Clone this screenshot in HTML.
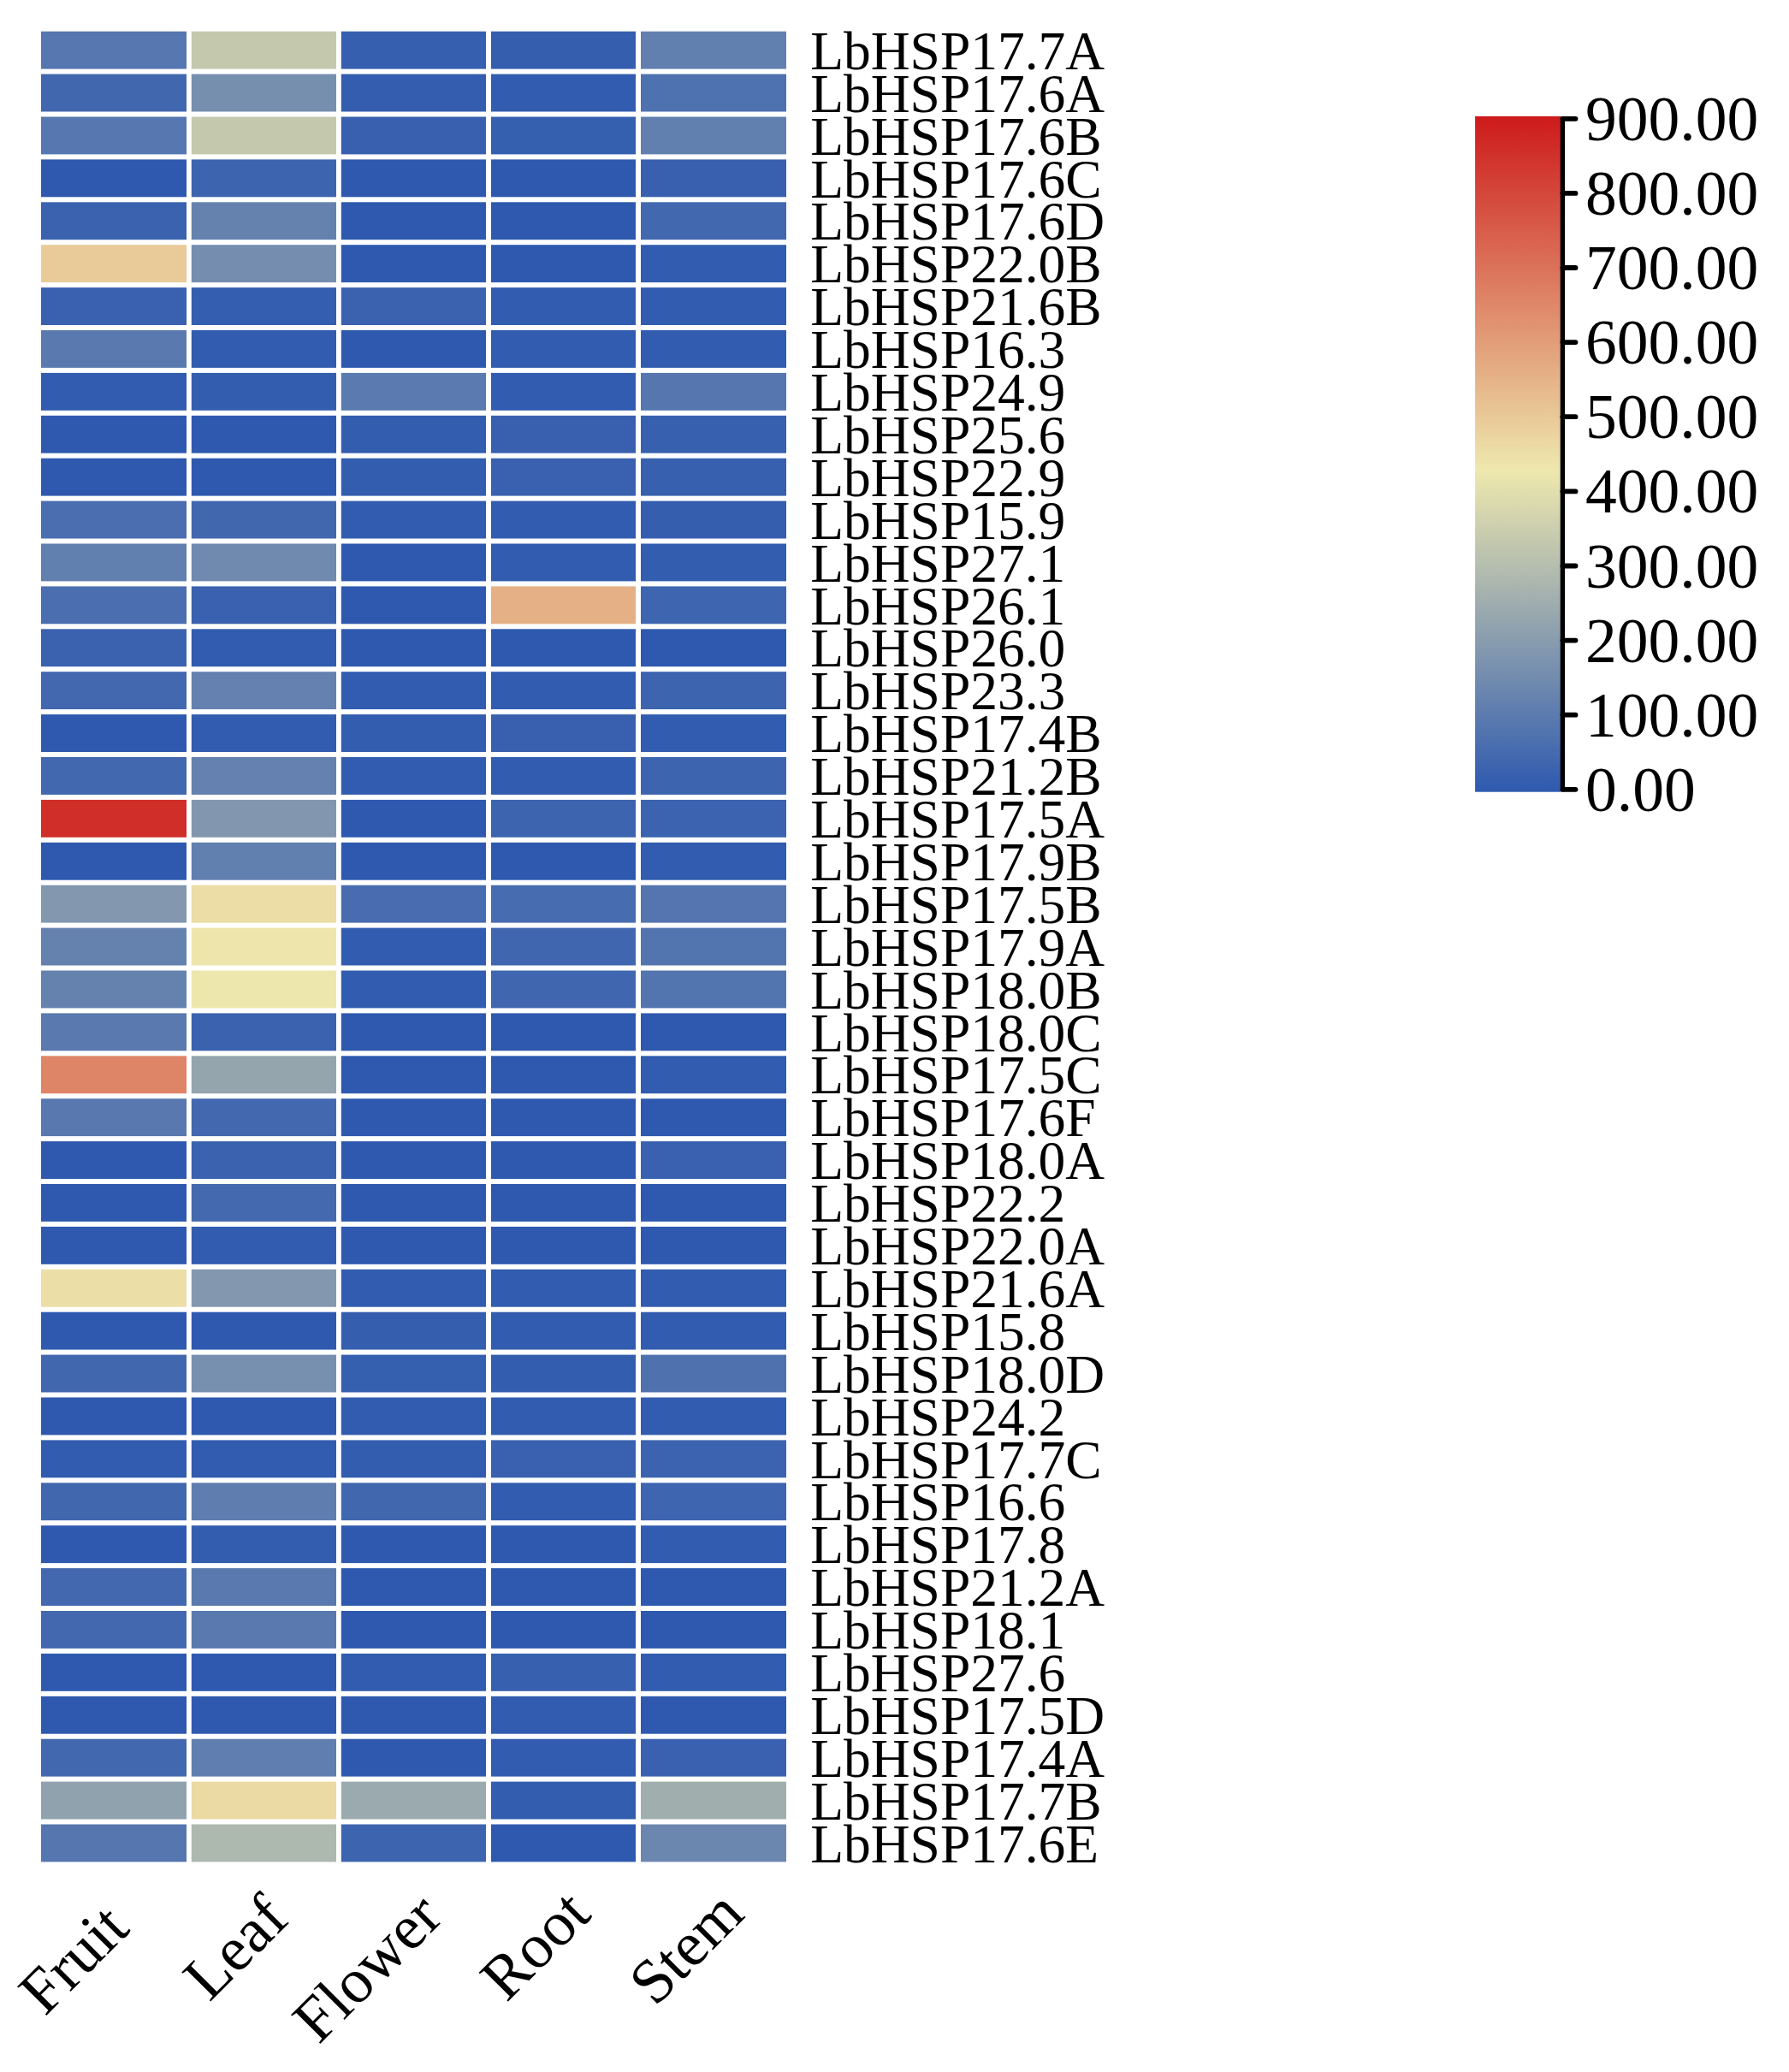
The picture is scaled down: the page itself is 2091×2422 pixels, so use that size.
<!DOCTYPE html>
<html lang="en"><head><meta charset="utf-8"><title>LbHSP expression heatmap</title>
<style>html,body{margin:0;padding:0;background:#fff}body{width:2091px;height:2422px;overflow:hidden}svg{display:block}text{font-family:"Liberation Serif",serif;fill:#000}.rl{font-size:63.5px}.cl{font-size:73.5px}.tl{font-size:73.5px}</style></head><body>
<svg width="2091" height="2422" viewBox="0 0 2091 2422">
<rect width="2091" height="2422" fill="#fff"/>
<g>
<rect x="48" y="36.70" width="170" height="43.9" fill="#5677AF"/>
<rect x="223.8" y="36.70" width="169.2" height="43.9" fill="#C4C9AE"/>
<rect x="398.8" y="36.70" width="169.2" height="43.9" fill="#365FAF"/>
<rect x="574" y="36.70" width="169" height="43.9" fill="#355EAF"/>
<rect x="749" y="36.70" width="170" height="43.9" fill="#6280AF"/>
<rect x="48" y="86.60" width="170" height="43.9" fill="#4167AF"/>
<rect x="223.8" y="86.60" width="169.2" height="43.9" fill="#778FAF"/>
<rect x="398.8" y="86.60" width="169.2" height="43.9" fill="#345DAF"/>
<rect x="574" y="86.60" width="169" height="43.9" fill="#325CAF"/>
<rect x="749" y="86.60" width="170" height="43.9" fill="#4E71AF"/>
<rect x="48" y="136.50" width="170" height="43.9" fill="#5677AF"/>
<rect x="223.8" y="136.50" width="169.2" height="43.9" fill="#C4C9AE"/>
<rect x="398.8" y="136.50" width="169.2" height="43.9" fill="#3860AF"/>
<rect x="574" y="136.50" width="169" height="43.9" fill="#355FAF"/>
<rect x="749" y="136.50" width="170" height="43.9" fill="#6280AF"/>
<rect x="48" y="186.40" width="170" height="43.9" fill="#2E59AF"/>
<rect x="223.8" y="186.40" width="169.2" height="43.9" fill="#3D64AF"/>
<rect x="398.8" y="186.40" width="169.2" height="43.9" fill="#2E59AF"/>
<rect x="574" y="186.40" width="169" height="43.9" fill="#2E59AF"/>
<rect x="749" y="186.40" width="170" height="43.9" fill="#3860AF"/>
<rect x="48" y="236.30" width="170" height="43.9" fill="#3A62AF"/>
<rect x="223.8" y="236.30" width="169.2" height="43.9" fill="#6582AF"/>
<rect x="398.8" y="236.30" width="169.2" height="43.9" fill="#2E59AF"/>
<rect x="574" y="236.30" width="169" height="43.9" fill="#2E59AF"/>
<rect x="749" y="236.30" width="170" height="43.9" fill="#4268AF"/>
<rect x="48" y="286.20" width="170" height="43.9" fill="#E9CB99"/>
<rect x="223.8" y="286.20" width="169.2" height="43.9" fill="#758EAF"/>
<rect x="398.8" y="286.20" width="169.2" height="43.9" fill="#2E59AF"/>
<rect x="574" y="286.20" width="169" height="43.9" fill="#2E59AF"/>
<rect x="749" y="286.20" width="170" height="43.9" fill="#325CAF"/>
<rect x="48" y="336.10" width="170" height="43.9" fill="#3961AF"/>
<rect x="223.8" y="336.10" width="169.2" height="43.9" fill="#345EAF"/>
<rect x="398.8" y="336.10" width="169.2" height="43.9" fill="#3A62AF"/>
<rect x="574" y="336.10" width="169" height="43.9" fill="#325CAF"/>
<rect x="749" y="336.10" width="170" height="43.9" fill="#325CAF"/>
<rect x="48" y="386.00" width="170" height="43.9" fill="#5A7AAF"/>
<rect x="223.8" y="386.00" width="169.2" height="43.9" fill="#315CAF"/>
<rect x="398.8" y="386.00" width="169.2" height="43.9" fill="#2E59AF"/>
<rect x="574" y="386.00" width="169" height="43.9" fill="#315CAF"/>
<rect x="749" y="386.00" width="170" height="43.9" fill="#315CAF"/>
<rect x="48" y="435.90" width="170" height="43.9" fill="#315CAF"/>
<rect x="223.8" y="435.90" width="169.2" height="43.9" fill="#335DAF"/>
<rect x="398.8" y="435.90" width="169.2" height="43.9" fill="#5B7AAF"/>
<rect x="574" y="435.90" width="169" height="43.9" fill="#325CAF"/>
<rect x="749" y="435.90" width="170" height="43.9" fill="#5576AF"/>
<rect x="48" y="485.80" width="170" height="43.9" fill="#2E59AF"/>
<rect x="223.8" y="485.80" width="169.2" height="43.9" fill="#2E59AF"/>
<rect x="398.8" y="485.80" width="169.2" height="43.9" fill="#335DAF"/>
<rect x="574" y="485.80" width="169" height="43.9" fill="#3860AF"/>
<rect x="749" y="485.80" width="170" height="43.9" fill="#3760AF"/>
<rect x="48" y="535.70" width="170" height="43.9" fill="#2E59AF"/>
<rect x="223.8" y="535.70" width="169.2" height="43.9" fill="#2E59AF"/>
<rect x="398.8" y="535.70" width="169.2" height="43.9" fill="#335DAF"/>
<rect x="574" y="535.70" width="169" height="43.9" fill="#3961AF"/>
<rect x="749" y="535.70" width="170" height="43.9" fill="#3760AF"/>
<rect x="48" y="585.60" width="170" height="43.9" fill="#4A6EAF"/>
<rect x="223.8" y="585.60" width="169.2" height="43.9" fill="#4167AF"/>
<rect x="398.8" y="585.60" width="169.2" height="43.9" fill="#315CAF"/>
<rect x="574" y="585.60" width="169" height="43.9" fill="#315CAF"/>
<rect x="749" y="585.60" width="170" height="43.9" fill="#355EAF"/>
<rect x="48" y="635.50" width="170" height="43.9" fill="#617FAF"/>
<rect x="223.8" y="635.50" width="169.2" height="43.9" fill="#6F89AF"/>
<rect x="398.8" y="635.50" width="169.2" height="43.9" fill="#2E59AF"/>
<rect x="574" y="635.50" width="169" height="43.9" fill="#315CAF"/>
<rect x="749" y="635.50" width="170" height="43.9" fill="#335DAF"/>
<rect x="48" y="685.40" width="170" height="43.9" fill="#4A6EAF"/>
<rect x="223.8" y="685.40" width="169.2" height="43.9" fill="#3961AF"/>
<rect x="398.8" y="685.40" width="169.2" height="43.9" fill="#2E59AF"/>
<rect x="574" y="685.40" width="169" height="43.9" fill="#E5B086"/>
<rect x="749" y="685.40" width="170" height="43.9" fill="#3E65AF"/>
<rect x="48" y="735.30" width="170" height="43.9" fill="#3B62AF"/>
<rect x="223.8" y="735.30" width="169.2" height="43.9" fill="#315CAF"/>
<rect x="398.8" y="735.30" width="169.2" height="43.9" fill="#2E59AF"/>
<rect x="574" y="735.30" width="169" height="43.9" fill="#2E59AF"/>
<rect x="749" y="735.30" width="170" height="43.9" fill="#2E59AF"/>
<rect x="48" y="785.20" width="170" height="43.9" fill="#4368AF"/>
<rect x="223.8" y="785.20" width="169.2" height="43.9" fill="#6481AF"/>
<rect x="398.8" y="785.20" width="169.2" height="43.9" fill="#325CAF"/>
<rect x="574" y="785.20" width="169" height="43.9" fill="#325CAF"/>
<rect x="749" y="785.20" width="170" height="43.9" fill="#3D64AF"/>
<rect x="48" y="835.10" width="170" height="43.9" fill="#2E59AF"/>
<rect x="223.8" y="835.10" width="169.2" height="43.9" fill="#315CAF"/>
<rect x="398.8" y="835.10" width="169.2" height="43.9" fill="#335DAF"/>
<rect x="574" y="835.10" width="169" height="43.9" fill="#3860AF"/>
<rect x="749" y="835.10" width="170" height="43.9" fill="#315CAF"/>
<rect x="48" y="885.00" width="170" height="43.9" fill="#4268AF"/>
<rect x="223.8" y="885.00" width="169.2" height="43.9" fill="#6481AF"/>
<rect x="398.8" y="885.00" width="169.2" height="43.9" fill="#325CAF"/>
<rect x="574" y="885.00" width="169" height="43.9" fill="#325CAF"/>
<rect x="749" y="885.00" width="170" height="43.9" fill="#3D64AF"/>
<rect x="48" y="934.90" width="170" height="43.9" fill="#D02E29"/>
<rect x="223.8" y="934.90" width="169.2" height="43.9" fill="#8297AF"/>
<rect x="398.8" y="934.90" width="169.2" height="43.9" fill="#2E59AF"/>
<rect x="574" y="934.90" width="169" height="43.9" fill="#3D64AF"/>
<rect x="749" y="934.90" width="170" height="43.9" fill="#3B63AF"/>
<rect x="48" y="984.80" width="170" height="43.9" fill="#2E59AF"/>
<rect x="223.8" y="984.80" width="169.2" height="43.9" fill="#617FAF"/>
<rect x="398.8" y="984.80" width="169.2" height="43.9" fill="#2E59AF"/>
<rect x="574" y="984.80" width="169" height="43.9" fill="#2E59AF"/>
<rect x="749" y="984.80" width="170" height="43.9" fill="#315CAF"/>
<rect x="48" y="1034.70" width="170" height="43.9" fill="#8398AF"/>
<rect x="223.8" y="1034.70" width="169.2" height="43.9" fill="#ECDCA6"/>
<rect x="398.8" y="1034.70" width="169.2" height="43.9" fill="#486CAF"/>
<rect x="574" y="1034.70" width="169" height="43.9" fill="#476CAF"/>
<rect x="749" y="1034.70" width="170" height="43.9" fill="#5475AF"/>
<rect x="48" y="1084.60" width="170" height="43.9" fill="#6582AF"/>
<rect x="223.8" y="1084.60" width="169.2" height="43.9" fill="#EEE5AC"/>
<rect x="398.8" y="1084.60" width="169.2" height="43.9" fill="#325CAF"/>
<rect x="574" y="1084.60" width="169" height="43.9" fill="#4066AF"/>
<rect x="749" y="1084.60" width="170" height="43.9" fill="#5375AF"/>
<rect x="48" y="1134.50" width="170" height="43.9" fill="#6582AF"/>
<rect x="223.8" y="1134.50" width="169.2" height="43.9" fill="#EEE7AD"/>
<rect x="398.8" y="1134.50" width="169.2" height="43.9" fill="#325CAF"/>
<rect x="574" y="1134.50" width="169" height="43.9" fill="#4066AF"/>
<rect x="749" y="1134.50" width="170" height="43.9" fill="#5375AF"/>
<rect x="48" y="1184.40" width="170" height="43.9" fill="#5979AF"/>
<rect x="223.8" y="1184.40" width="169.2" height="43.9" fill="#3A62AF"/>
<rect x="398.8" y="1184.40" width="169.2" height="43.9" fill="#2E59AF"/>
<rect x="574" y="1184.40" width="169" height="43.9" fill="#2E59AF"/>
<rect x="749" y="1184.40" width="170" height="43.9" fill="#2E59AF"/>
<rect x="48" y="1234.30" width="170" height="43.9" fill="#DE8567"/>
<rect x="223.8" y="1234.30" width="169.2" height="43.9" fill="#94A5AE"/>
<rect x="398.8" y="1234.30" width="169.2" height="43.9" fill="#2E59AF"/>
<rect x="574" y="1234.30" width="169" height="43.9" fill="#2E59AF"/>
<rect x="749" y="1234.30" width="170" height="43.9" fill="#315CAF"/>
<rect x="48" y="1284.20" width="170" height="43.9" fill="#5878AF"/>
<rect x="223.8" y="1284.20" width="169.2" height="43.9" fill="#4368AF"/>
<rect x="398.8" y="1284.20" width="169.2" height="43.9" fill="#2E59AF"/>
<rect x="574" y="1284.20" width="169" height="43.9" fill="#2E59AF"/>
<rect x="749" y="1284.20" width="170" height="43.9" fill="#2E59AF"/>
<rect x="48" y="1334.10" width="170" height="43.9" fill="#2E59AF"/>
<rect x="223.8" y="1334.10" width="169.2" height="43.9" fill="#3B62AF"/>
<rect x="398.8" y="1334.10" width="169.2" height="43.9" fill="#2E59AF"/>
<rect x="574" y="1334.10" width="169" height="43.9" fill="#2E59AF"/>
<rect x="749" y="1334.10" width="170" height="43.9" fill="#3961AF"/>
<rect x="48" y="1384.00" width="170" height="43.9" fill="#2E59AF"/>
<rect x="223.8" y="1384.00" width="169.2" height="43.9" fill="#4469AF"/>
<rect x="398.8" y="1384.00" width="169.2" height="43.9" fill="#2E59AF"/>
<rect x="574" y="1384.00" width="169" height="43.9" fill="#2E59AF"/>
<rect x="749" y="1384.00" width="170" height="43.9" fill="#2E59AF"/>
<rect x="48" y="1433.90" width="170" height="43.9" fill="#2E59AF"/>
<rect x="223.8" y="1433.90" width="169.2" height="43.9" fill="#325CAF"/>
<rect x="398.8" y="1433.90" width="169.2" height="43.9" fill="#2E59AF"/>
<rect x="574" y="1433.90" width="169" height="43.9" fill="#2E59AF"/>
<rect x="749" y="1433.90" width="170" height="43.9" fill="#2E59AF"/>
<rect x="48" y="1483.80" width="170" height="43.9" fill="#ECDEA7"/>
<rect x="223.8" y="1483.80" width="169.2" height="43.9" fill="#8398AF"/>
<rect x="398.8" y="1483.80" width="169.2" height="43.9" fill="#325CAF"/>
<rect x="574" y="1483.80" width="169" height="43.9" fill="#315CAF"/>
<rect x="749" y="1483.80" width="170" height="43.9" fill="#325CAF"/>
<rect x="48" y="1533.70" width="170" height="43.9" fill="#2E59AF"/>
<rect x="223.8" y="1533.70" width="169.2" height="43.9" fill="#2E59AF"/>
<rect x="398.8" y="1533.70" width="169.2" height="43.9" fill="#355EAF"/>
<rect x="574" y="1533.70" width="169" height="43.9" fill="#325CAF"/>
<rect x="749" y="1533.70" width="170" height="43.9" fill="#325CAF"/>
<rect x="48" y="1583.60" width="170" height="43.9" fill="#4167AF"/>
<rect x="223.8" y="1583.60" width="169.2" height="43.9" fill="#7890AF"/>
<rect x="398.8" y="1583.60" width="169.2" height="43.9" fill="#355FAF"/>
<rect x="574" y="1583.60" width="169" height="43.9" fill="#335DAF"/>
<rect x="749" y="1583.60" width="170" height="43.9" fill="#4F72AF"/>
<rect x="48" y="1633.50" width="170" height="43.9" fill="#2E59AF"/>
<rect x="223.8" y="1633.50" width="169.2" height="43.9" fill="#2E59AF"/>
<rect x="398.8" y="1633.50" width="169.2" height="43.9" fill="#325CAF"/>
<rect x="574" y="1633.50" width="169" height="43.9" fill="#325CAF"/>
<rect x="749" y="1633.50" width="170" height="43.9" fill="#325CAF"/>
<rect x="48" y="1683.40" width="170" height="43.9" fill="#315CAF"/>
<rect x="223.8" y="1683.40" width="169.2" height="43.9" fill="#315CAF"/>
<rect x="398.8" y="1683.40" width="169.2" height="43.9" fill="#335DAF"/>
<rect x="574" y="1683.40" width="169" height="43.9" fill="#3961AF"/>
<rect x="749" y="1683.40" width="170" height="43.9" fill="#3C63AF"/>
<rect x="48" y="1733.30" width="170" height="43.9" fill="#4167AF"/>
<rect x="223.8" y="1733.30" width="169.2" height="43.9" fill="#5F7DAF"/>
<rect x="398.8" y="1733.30" width="169.2" height="43.9" fill="#4167AF"/>
<rect x="574" y="1733.30" width="169" height="43.9" fill="#315CAF"/>
<rect x="749" y="1733.30" width="170" height="43.9" fill="#3E65AF"/>
<rect x="48" y="1783.20" width="170" height="43.9" fill="#2E59AF"/>
<rect x="223.8" y="1783.20" width="169.2" height="43.9" fill="#335DAF"/>
<rect x="398.8" y="1783.20" width="169.2" height="43.9" fill="#2E59AF"/>
<rect x="574" y="1783.20" width="169" height="43.9" fill="#2E59AF"/>
<rect x="749" y="1783.20" width="170" height="43.9" fill="#325CAF"/>
<rect x="48" y="1833.10" width="170" height="43.9" fill="#4368AF"/>
<rect x="223.8" y="1833.10" width="169.2" height="43.9" fill="#5979AF"/>
<rect x="398.8" y="1833.10" width="169.2" height="43.9" fill="#2E59AF"/>
<rect x="574" y="1833.10" width="169" height="43.9" fill="#2E59AF"/>
<rect x="749" y="1833.10" width="170" height="43.9" fill="#2E59AF"/>
<rect x="48" y="1883.00" width="170" height="43.9" fill="#4368AF"/>
<rect x="223.8" y="1883.00" width="169.2" height="43.9" fill="#5979AF"/>
<rect x="398.8" y="1883.00" width="169.2" height="43.9" fill="#2E59AF"/>
<rect x="574" y="1883.00" width="169" height="43.9" fill="#2E59AF"/>
<rect x="749" y="1883.00" width="170" height="43.9" fill="#2E59AF"/>
<rect x="48" y="1932.90" width="170" height="43.9" fill="#2E59AF"/>
<rect x="223.8" y="1932.90" width="169.2" height="43.9" fill="#2E59AF"/>
<rect x="398.8" y="1932.90" width="169.2" height="43.9" fill="#325CAF"/>
<rect x="574" y="1932.90" width="169" height="43.9" fill="#3760AF"/>
<rect x="749" y="1932.90" width="170" height="43.9" fill="#315CAF"/>
<rect x="48" y="1982.80" width="170" height="43.9" fill="#2E59AF"/>
<rect x="223.8" y="1982.80" width="169.2" height="43.9" fill="#2E59AF"/>
<rect x="398.8" y="1982.80" width="169.2" height="43.9" fill="#2E59AF"/>
<rect x="574" y="1982.80" width="169" height="43.9" fill="#315CAF"/>
<rect x="749" y="1982.80" width="170" height="43.9" fill="#2E59AF"/>
<rect x="48" y="2032.70" width="170" height="43.9" fill="#4268AF"/>
<rect x="223.8" y="2032.70" width="169.2" height="43.9" fill="#607EAF"/>
<rect x="398.8" y="2032.70" width="169.2" height="43.9" fill="#2E59AF"/>
<rect x="574" y="2032.70" width="169" height="43.9" fill="#315CAF"/>
<rect x="749" y="2032.70" width="170" height="43.9" fill="#3961AF"/>
<rect x="48" y="2082.60" width="170" height="43.9" fill="#90A2AE"/>
<rect x="223.8" y="2082.60" width="169.2" height="43.9" fill="#ECDAA4"/>
<rect x="398.8" y="2082.60" width="169.2" height="43.9" fill="#9BAAAE"/>
<rect x="574" y="2082.60" width="169" height="43.9" fill="#335DAF"/>
<rect x="749" y="2082.60" width="170" height="43.9" fill="#A0AEAE"/>
<rect x="48" y="2132.50" width="170" height="43.9" fill="#5576AF"/>
<rect x="223.8" y="2132.50" width="169.2" height="43.9" fill="#ADB8AE"/>
<rect x="398.8" y="2132.50" width="169.2" height="43.9" fill="#3D64AF"/>
<rect x="574" y="2132.50" width="169" height="43.9" fill="#2E59AF"/>
<rect x="749" y="2132.50" width="170" height="43.9" fill="#6C87AF"/>
</g>
<g class="rl">
<text x="947.2" y="80.8">LbHSP17.7A</text>
<text x="947.2" y="130.7">LbHSP17.6A</text>
<text x="947.2" y="180.6">LbHSP17.6B</text>
<text x="947.2" y="230.5">LbHSP17.6C</text>
<text x="947.2" y="280.4">LbHSP17.6D</text>
<text x="947.2" y="330.3">LbHSP22.0B</text>
<text x="947.2" y="380.2">LbHSP21.6B</text>
<text x="947.2" y="430.1">LbHSP16.3</text>
<text x="947.2" y="480.0">LbHSP24.9</text>
<text x="947.2" y="529.9">LbHSP25.6</text>
<text x="947.2" y="579.8">LbHSP22.9</text>
<text x="947.2" y="629.7">LbHSP15.9</text>
<text x="947.2" y="679.6">LbHSP27.1</text>
<text x="947.2" y="729.5">LbHSP26.1</text>
<text x="947.2" y="779.4">LbHSP26.0</text>
<text x="947.2" y="829.3">LbHSP23.3</text>
<text x="947.2" y="879.2">LbHSP17.4B</text>
<text x="947.2" y="929.1">LbHSP21.2B</text>
<text x="947.2" y="979.0">LbHSP17.5A</text>
<text x="947.2" y="1028.9">LbHSP17.9B</text>
<text x="947.2" y="1078.8">LbHSP17.5B</text>
<text x="947.2" y="1128.7">LbHSP17.9A</text>
<text x="947.2" y="1178.6">LbHSP18.0B</text>
<text x="947.2" y="1228.5">LbHSP18.0C</text>
<text x="947.2" y="1278.4">LbHSP17.5C</text>
<text x="947.2" y="1328.3">LbHSP17.6F</text>
<text x="947.2" y="1378.2">LbHSP18.0A</text>
<text x="947.2" y="1428.1">LbHSP22.2</text>
<text x="947.2" y="1478.0">LbHSP22.0A</text>
<text x="947.2" y="1527.9">LbHSP21.6A</text>
<text x="947.2" y="1577.8">LbHSP15.8</text>
<text x="947.2" y="1627.7">LbHSP18.0D</text>
<text x="947.2" y="1677.6">LbHSP24.2</text>
<text x="947.2" y="1727.5">LbHSP17.7C</text>
<text x="947.2" y="1777.4">LbHSP16.6</text>
<text x="947.2" y="1827.3">LbHSP17.8</text>
<text x="947.2" y="1877.2">LbHSP21.2A</text>
<text x="947.2" y="1927.1">LbHSP18.1</text>
<text x="947.2" y="1977.0">LbHSP27.6</text>
<text x="947.2" y="2026.9">LbHSP17.5D</text>
<text x="947.2" y="2076.8">LbHSP17.4A</text>
<text x="947.2" y="2126.7">LbHSP17.7B</text>
<text x="947.2" y="2176.6">LbHSP17.6E</text>
</g>
<g class="cl">
<text transform="translate(52.6 2357.8) rotate(-45)">Fruit</text>
<text transform="translate(244.8 2341.0) rotate(-45)">Leaf</text>
<text transform="translate(372.6 2390.8) rotate(-45)">Flower</text>
<text transform="translate(592.0 2341.4) rotate(-45)">Root</text>
<text transform="translate(765.7 2346.8) rotate(-45)">Stem</text>
</g>
<defs><linearGradient id="cb" x1="0" y1="1" x2="0" y2="0"><stop offset="0" stop-color="#2E59AF"/><stop offset="0.4756" stop-color="#EEE8AE"/><stop offset="1" stop-color="#CD1A1B"/></linearGradient></defs>
<rect x="1724.1" y="135.9" width="100.5" height="789.8" fill="url(#cb)"/>
<path d="M1826.4 138.8V922.8" stroke="#000" stroke-width="5.4" stroke-linecap="round" fill="none"/>
<g stroke="#000" stroke-width="5.8" stroke-linecap="round">
<path d="M1826.4 922.8H1841.5"/>
<path d="M1826.4 835.7H1841.5"/>
<path d="M1826.4 748.6H1841.5"/>
<path d="M1826.4 661.5H1841.5"/>
<path d="M1826.4 574.4H1841.5"/>
<path d="M1826.4 487.2H1841.5"/>
<path d="M1826.4 400.1H1841.5"/>
<path d="M1826.4 313.0H1841.5"/>
<path d="M1826.4 225.9H1841.5"/>
<path d="M1826.4 138.8H1841.5"/>
</g>
<g class="tl">
<text x="1853" y="947.8">0.00</text>
<text x="1853" y="860.7">100.00</text>
<text x="1853" y="773.6">200.00</text>
<text x="1853" y="686.5">300.00</text>
<text x="1853" y="599.4">400.00</text>
<text x="1853" y="512.2">500.00</text>
<text x="1853" y="425.1">600.00</text>
<text x="1853" y="338.0">700.00</text>
<text x="1853" y="250.9">800.00</text>
<text x="1853" y="163.8">900.00</text>
</g>
</svg></body></html>
